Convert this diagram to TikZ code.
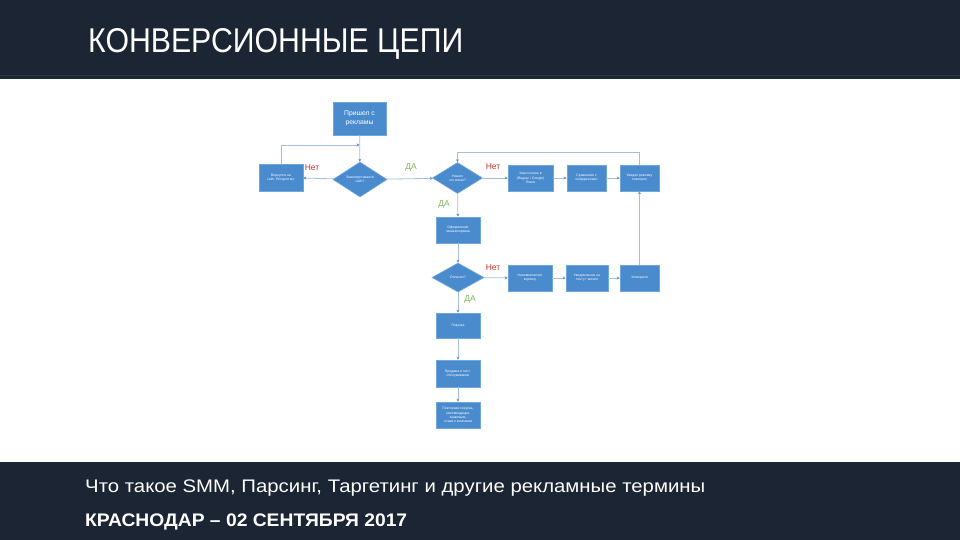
\documentclass[tikz,border=0pt]{standalone}
\usepackage{fontspec}
\setmainfont{Liberation Sans}
\usetikzlibrary{shapes.geometric,arrows.meta}
\definecolor{hdr}{HTML}{1B2533}
\definecolor{hdrline}{HTML}{2B3A4A}
\definecolor{boxfill}{HTML}{4A8BCE}
\definecolor{boxline}{HTML}{6FA6DC}
\definecolor{conn}{HTML}{A3C0E0}
\definecolor{conntip}{HTML}{5A8FCB}
\definecolor{nored}{HTML}{C0392B}
\definecolor{yesgreen}{HTML}{7DB55A}
\tikzset{
  box/.style 2 args={draw=boxline, fill=boxfill, line width=0.6pt, text=white,
    font=\fontsize{3.4}{4.2}\selectfont, align=center, inner sep=0.5pt,
    minimum width=#1pt, minimum height=#2pt},
  dia/.style 2 args={diamond, draw=boxline, fill=boxfill, line width=0.6pt, text=white,
    font=\fontsize{3.4}{4.2}\selectfont, align=center, inner sep=0pt,
    minimum width=#1pt, minimum height=#2pt},
  link/.style={draw=conn, line width=0.8pt, -{Stealth[length=3pt,width=3pt,color=conntip]}},
  plain/.style={draw=conn, line width=0.8pt},
  nolabel/.style={text=nored, font=\fontsize{8.5}{9}\selectfont},
  yeslabel/.style={text=yesgreen, font=\fontsize{8.5}{9}\selectfont},
}
\begin{document}
\begin{tikzpicture}[x=1pt,y=-1pt]
\useasboundingbox (0,0) rectangle (960,540);
\fill[white] (0,0) rectangle (960,540);
% header and footer bands
\fill[hdr] (0,0) rectangle (960,79);
\draw[hdrline, line width=1pt] (0,75.5) -- (960,75.5);
\fill[hdr] (0,462) rectangle (960,540);
\node[anchor=base west, inner sep=0, text=white] (title) at (88,52.5)
  {\resizebox{375pt}{24pt}{КОНВЕРСИОННЫЕ ЦЕПИ}};
\node[anchor=base west, inner sep=0, text=white] (sub) at (85,492.5)
  {\resizebox{620pt}{12.7pt}{Что такое SMM, Парсинг, Таргетинг и другие рекламные термины}};
\node[anchor=base west, inner sep=0, text=white] (date) at (85,526)
  {\resizebox{322pt}{12.7pt}{\bfseries КРАСНОДАР – 02 СЕНТЯБРЯ 2017}};

% nodes
\node[box={53}{33}, font=\fontsize{6.8}{8.5}\selectfont] (top) at (359.5,118.5) {Пришел с\\рекламы};
\node[dia={54}{35}] (d1) at (360,179.5) {Заинтересовался\\сайт?};
\node[box={44}{27}] (left) at (281,177.5) {Вернулся на\\сайт. Ретаргетинг};
\node[dia={50}{31}] (d2) at (457.5,178) {Нашел\\что искал?};
\node[box={45}{26}] (r1a) at (530.5,178) {Ушел искать в\\(Яндекс / Google)\\Поиск};
\node[box={39}{26}] (r1b) at (586.5,178) {Сравнение с\\конкурентами};
\node[box={39}{26}] (r1c) at (639.5,178) {Увидел рекламу\\повторно};
\node[box={44}{26}] (m1) at (458,230) {Оформление\\заказа/корзина};
\node[dia={52}{29}] (d3) at (458,277.5) {Оплатил?};
\node[box={44}{26}] (r2a) at (530,278) {Напомнили про\\корзину};
\node[box={42}{26}] (r2b) at (587,278) {Уведомление на\\почту / звонок};
\node[box={39}{26}] (r2c) at (639.5,278) {Уговорили};
\node[box={44}{25}] (b1) at (458,325.5) {Покупка};
\node[box={44}{27}] (b2) at (458,373.5) {Продажа и пост-\\обслуживание};
\node[box={44}{26}] (b3) at (458,415) {Повторная покупка,\\рекомендация\\знакомым,\\отзыв о компании};

% junction coordinates
\coordinate (j1) at (359.5,145);
\coordinate (j0) at (281,145);
\coordinate (j2) at (639.5,152);
\coordinate (j3) at (457.5,152);

% connectors
\draw[link] (top) -- (d1);
\draw[link] (d1) -- (left);
\draw[plain] (left.north) -- (j0);
\draw[link] (j0) -- (j1);
\draw[link] (d1) -- (d2);
\draw[plain] (r1c.north) -- (j2) -- (j3);
\draw[link] (j3) -- (d2.north);
\draw[link] (d2) -- (r1a);
\draw[link] (r1a) -- (r1b);
\draw[link] (r1b) -- (r1c);
\draw[link] (d2) -- (m1);
\draw[link] (m1) -- (d3);
\draw[link] (d3) -- (r2a);
\draw[link] (r2a) -- (r2b);
\draw[link] (r2b) -- (r2c);
\draw[link] (r2c) -- (r1c);
\draw[link] (d3) -- (b1);
\draw[link] (b1) -- (b2);
\draw[link] (b2) -- (b3);

% labels
\node[nolabel] (n1) at (312,168) {Нет};
\node[yeslabel] (y1) at (411,167) {ДА};
\node[nolabel] (n2) at (493,167) {Нет};
\node[yeslabel] (y2) at (444,204) {ДА};
\node[nolabel] (n3) at (493,268) {Нет};
\node[yeslabel] (y3) at (470,299) {ДА};
\end{tikzpicture}
\end{document}
